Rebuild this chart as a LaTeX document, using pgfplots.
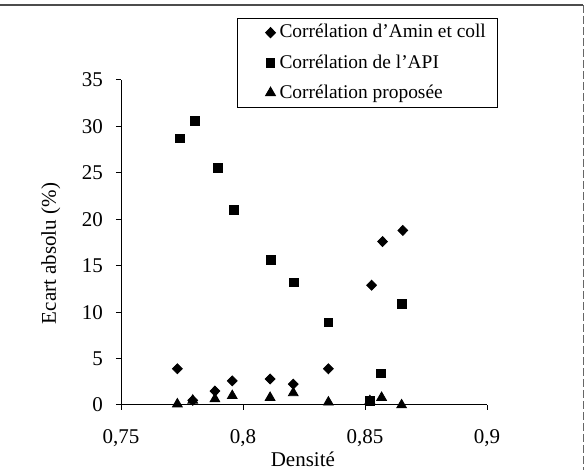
\documentclass[border=0pt]{standalone}
\usepackage{fontspec}
\setmainfont{Liberation Serif}
\usepackage{pgfplots}
\pgfplotsset{compat=1.18}
\newcommand{\fsz}{\fontsize{10.5}{12.6}\selectfont}
\newcommand{\lfsz}{\fontsize{9.7}{11.6}\selectfont}
\begin{document}
\begin{tikzpicture}[font=\fsz]
\begin{axis}[
  scale only axis,
  width=183pt, height=162.5pt,
  xmin=0.75, xmax=0.9, ymin=0, ymax=35,
  axis x line*=bottom, axis y line*=left,
  axis line style={line width=0.5pt, -},
  xtick={0.75,0.8,0.85,0.9},
  ytick={0,5,10,15,20,25,30,35},
  tick align=outside,
  major tick length=2.5pt,
  tick style={black, line width=0.5pt},
  /pgf/number format/use comma,
  /pgf/number format/assume math mode=true,
  tick label style={font=\fsz},
  xticklabel style={yshift=-6pt},
  yticklabel style={xshift=-3pt},
  xlabel={Densité},
  ylabel={Ecart absolu (\%)},
  label style={font=\fsz},
  xlabel style={at={(axis description cs:0.497,-0.168)}, anchor=center},
  ylabel style={at={(axis description cs:-0.192,0.466)}, anchor=center},
  legend style={at={(0.317,1.191)}, anchor=north west, draw=black, line width=0.5pt,
    font=\lfsz, inner xsep=4pt, inner ysep=1pt, row sep=2.8pt,
    cells={anchor=west}},
  legend cell align=left,
  legend image code/.code={\path[draw=none,fill=none] (0pt,0pt) (15pt,0pt); \draw[#1] plot coordinates {(12.5pt,0pt)};},
  clip=false,
]
\addplot[only marks, mark=diamond*, mark size=2.5pt, mark options={draw=black, fill=black, xscale=1.3}]
  coordinates {(0.7731,3.9) (0.7794,0.5) (0.7885,1.5) (0.7956,2.6) (0.8111,2.8)
    (0.8206,2.25) (0.8350,3.9) (0.8527,12.9) (0.8572,17.6) (0.8655,18.8)};
\addlegendentry{Corrélation d'Amin et coll}
\addplot[only marks, mark=square*, mark size=2.2pt, mark options={draw=black, fill=black}]
  coordinates {(0.7742,28.7) (0.7803,30.6) (0.7896,25.5) (0.7963,21.0) (0.8114,15.6)
    (0.8210,13.2) (0.8350,8.9) (0.8520,0.4) (0.8566,3.4) (0.8650,10.9)};
\addlegendentry{Corrélation de l'API}
\addplot[only marks, mark=triangle*, mark size=2.8pt, mark options={draw=black, fill=black}]
  coordinates {(0.7731,0.1) (0.7794,0.5) (0.7885,0.65) (0.7956,1.0) (0.8111,0.8)
    (0.8206,1.3) (0.8350,0.3) (0.8520,0.45) (0.8568,0.8) (0.8650,0.0)};
\addlegendentry{Corrélation proposée}
\end{axis}
\draw[black!70, line width=0.6pt] (-60.5pt,200pt) -- (231pt,200pt);
\draw[black!60, line width=0.5pt, dash pattern=on 4pt off 1.5pt] (231pt,200pt) -- (231pt,-32.5pt);
\pgfresetboundingbox
\path[use as bounding box] (-60.5pt,-32.5pt) rectangle (233.5pt,202.5pt);
\end{tikzpicture}
\end{document}
